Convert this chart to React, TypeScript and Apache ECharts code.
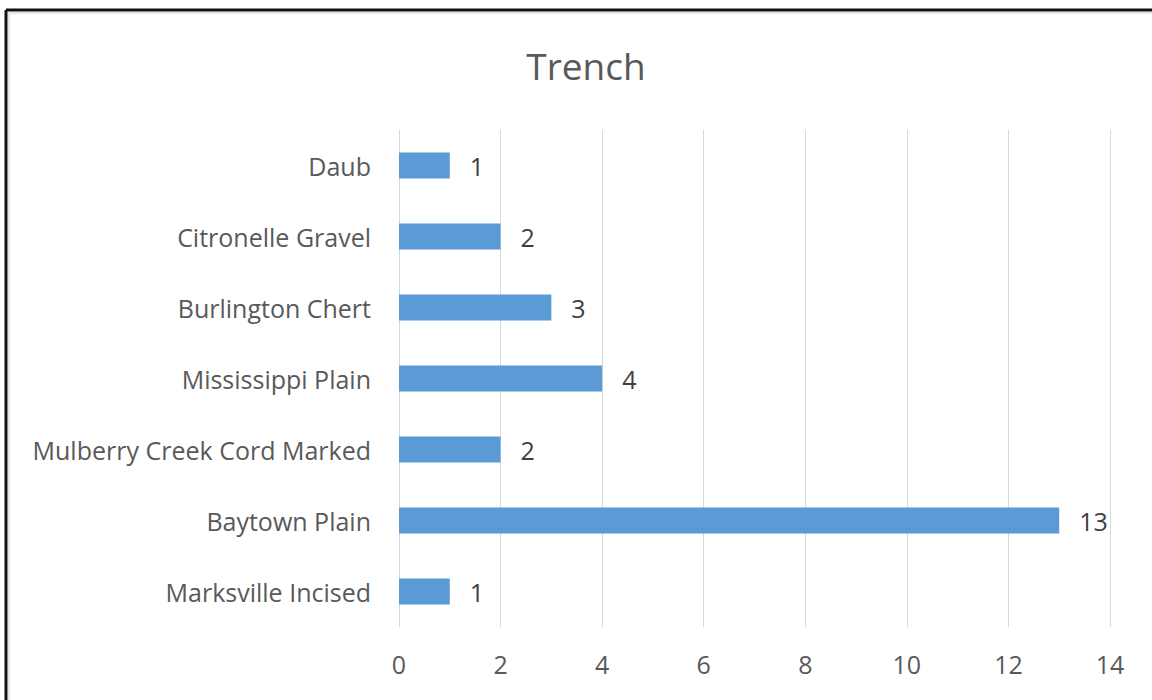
import React, { useEffect, useRef } from "react";
import * as echarts from "echarts";

const categories = [
  "Marksville Incised",
  "Baytown Plain",
  "Mulberry Creek Cord Marked",
  "Mississippi Plain",
  "Burlington Chert",
  "Citronelle Gravel",
  "Daub",
];
const values = [1, 13, 2, 4, 3, 2, 1];
const xTicks = { min: 0, max: 14, interval: 2 };

const FONT = "'Open Sans', 'Noto Sans', sans-serif";

export default function App() {
  const ref = useRef<HTMLDivElement>(null);
  useEffect(() => {
    const chart = echarts.init(ref.current!, null, { renderer: "svg" });
    chart.setOption({
      animation: false,
      backgroundColor: "#ffffff",
      title: {
        text: "Trench",
        left: 581,
        top: 42,
        textAlign: "center",
        textStyle: { fontFamily: FONT, fontSize: 37, fontWeight: "normal", color: "#595959" },
      },
      grid: { left: 399, right: 42, top: 130, bottom: 73, containLabel: false },
      xAxis: {
        type: "value",
        min: xTicks.min,
        max: xTicks.max,
        interval: xTicks.interval,
        axisLine: { show: false },
        axisTick: { show: false },
        splitLine: { show: true, lineStyle: { color: "#d9d9d9", width: 1 } },
        axisLabel: { margin: 24, fontFamily: FONT, fontSize: 25, color: "#595959" },
      },
      yAxis: {
        type: "category",
        data: categories,
        axisLine: { show: false },
        axisTick: { show: false },
        axisLabel: { margin: 28, fontFamily: FONT, fontSize: 25, color: "#595959" },
      },
      series: [
        {
          type: "bar",
          data: values,
          barWidth: 26,
          itemStyle: { color: "#5b9bd5" },
          label: {
            show: true,
            position: "right",
            distance: 20,
            fontFamily: FONT,
            fontSize: 25,
            color: "#404040",
          },
        },
      ],
      graphic: [
        { type: "line", shape: { x1: 9, y1: 13, x2: 1152, y2: 13 }, style: { stroke: "#e6e6e6", lineWidth: 2 } },
        { type: "line", shape: { x1: 9, y1: 13, x2: 9, y2: 700 }, style: { stroke: "#e6e6e6", lineWidth: 2 } },
        { type: "line", shape: { x1: 6, y1: 10, x2: 1152, y2: 10 }, style: { stroke: "#111111", lineWidth: 3 } },
        { type: "line", shape: { x1: 6, y1: 10, x2: 6, y2: 700 }, style: { stroke: "#111111", lineWidth: 3 } },
      ],
    });
    return () => chart.dispose();
  }, []);
  return (
    <div
      ref={ref}
      style={{ position: "fixed", left: 0, top: 0, width: 1152, height: 700 }}
    />
  );
}
